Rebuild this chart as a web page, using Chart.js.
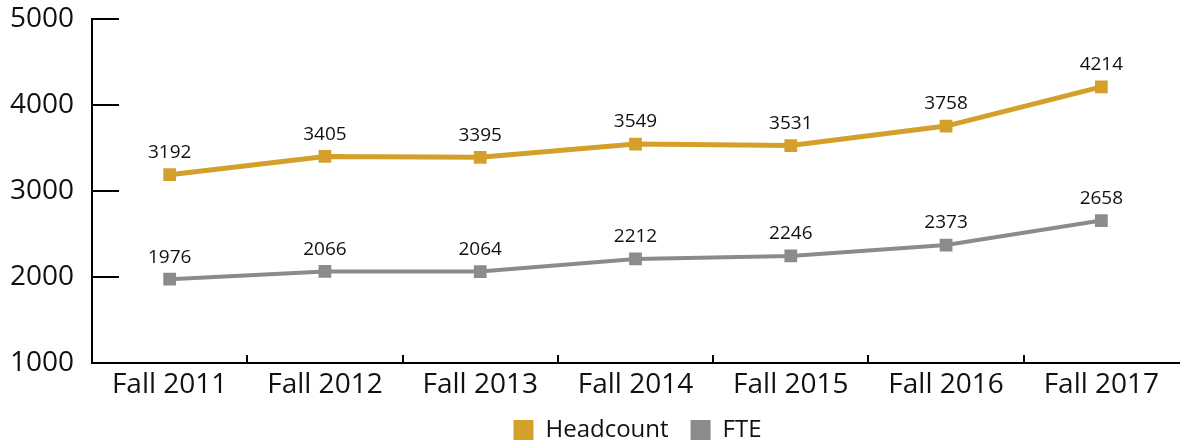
<!DOCTYPE html>
<html>
<head>
<meta charset="utf-8">
<script src="https://cdn.jsdelivr.net/npm/chart.js@4"></script>
<style>
  html, body { margin: 0; padding: 0; background: #fff; }
  #wrap { width: 1188px; height: 441px; position: relative; }
</style>
</head>
<body>
<div id="wrap"><canvas id="myChart"></canvas></div>
<script>
const terms = ['Fall 2011', 'Fall 2012', 'Fall 2013', 'Fall 2014', 'Fall 2015', 'Fall 2016', 'Fall 2017'];
const headcount = [3192, 3405, 3395, 3549, 3531, 3758, 4214];
const fte = [1976, 2066, 2064, 2212, 2246, 2373, 2658];
const yTicks = [1000, 2000, 3000, 4000, 5000];

const gold = '#d4a02b';
const grey = '#8b8b8c';
const fontFamily = '"Open Sans", "Noto Sans", sans-serif';

// keep the legend short so the plot reaches down to y=363, then move it into place
const legendFit = {
  id: 'legendFit',
  beforeLayout(chart) {
    const lg = chart.legend;
    if (lg && !lg.fitPatched) {
      const fit = lg.fit;
      lg.fit = function () { fit.call(this); this.height = 38; };
      lg.fitPatched = true;
    }
  },
  afterLayout(chart) {
    const lg = chart.legend;
    if (lg) {
      // centre it under the plot area instead of the canvas
      const dx = (chart.chartArea.left + chart.chartArea.right) / 2 - (lg.left + lg.right) / 2;
      lg.left += dx + 2;
      lg.right += dx + 2;
      lg.top -= 7;
      lg.bottom = chart.height;
    }
  }
};

// inner tick marks on both axes
const innerTicks = {
  id: 'innerTicks',
  afterDraw(chart) {
    const c = chart.ctx;
    const x = chart.scales.x, y = chart.scales.y;
    c.save();
    c.strokeStyle = '#000';
    c.lineWidth = 2;
    yTicks.forEach(v => {
      const py = Math.round(y.getPixelForValue(v));
      c.beginPath();
      c.moveTo(x.left, py);
      c.lineTo(x.left + 27, py);
      c.stroke();
    });
    for (let i = 1; i < terms.length; i++) {
      const px = Math.round((x.getPixelForValue(i - 1) + x.getPixelForValue(i)) / 2);
      c.beginPath();
      c.moveTo(px, y.bottom);
      c.lineTo(px, y.bottom - 8);
      c.stroke();
    }
    c.restore();
  }
};

// value labels above the points
const pointLabels = {
  id: 'pointLabels',
  afterDatasetsDraw(chart) {
    const c = chart.ctx;
    c.save();
    c.font = '19px ' + fontFamily;
    c.fillStyle = '#111';
    c.textAlign = 'center';
    c.textBaseline = 'middle';
    chart.data.datasets.forEach((ds, i) => {
      chart.getDatasetMeta(i).data.forEach((pt, j) => {
        c.fillText(String(ds.data[j]), pt.x, pt.y - 22);
      });
    });
    c.restore();
  }
};

new Chart(document.getElementById('myChart'), {
  type: 'line',
  data: {
    labels: terms,
    datasets: [{
      label: 'Headcount',
      data: headcount,
      borderColor: gold,
      backgroundColor: gold,
      borderWidth: 5,
      pointStyle: 'rect',
      pointRadius: 9,
      pointBorderWidth: 0,
      tension: 0
    }, {
      label: 'FTE',
      data: fte,
      borderColor: grey,
      backgroundColor: grey,
      borderWidth: 4,
      pointStyle: 'rect',
      pointRadius: 9,
      pointBorderWidth: 0,
      tension: 0
    }]
  },
  options: {
    responsive: true,
    maintainAspectRatio: false,
    animation: false,
    layout: { padding: 0 },
    plugins: {
      legend: {
        position: 'bottom',
        labels: {
          font: { family: fontFamily, size: 24 },
          color: '#111',
          boxWidth: 20,
          boxHeight: 20,
          padding: 22,
          useBorderRadius: false,
          generateLabels(chart) {
            return chart.data.datasets.map((ds, i) => ({
              text: ds.label,
              fillStyle: ds.backgroundColor,
              strokeStyle: ds.backgroundColor,
              lineWidth: 0,
              datasetIndex: i,
              fontColor: '#111'
            }));
          }
        }
      },
      tooltip: { enabled: false }
    },
    scales: {
      x: {
        offset: true,
        grid: { display: false, drawTicks: false },
        border: { display: true, color: '#000', width: 2 },
        ticks: {
          font: { family: fontFamily, size: 28 },
          color: '#111',
          padding: 5,
          maxRotation: 0
        },
        afterFit(scale) { scale.height = 40; }
      },
      y: {
        min: 1000,
        max: 5000,
        afterBuildTicks(scale) { scale.ticks = yTicks.map(v => ({ value: v })); },
        grid: { display: false, drawTicks: false },
        border: { display: true, color: '#000', width: 2 },
        ticks: {
          font: { family: fontFamily, size: 28, lineHeight: 0.1 },
          color: '#111',
          padding: 18,
          callback: v => String(v)
        },
        afterFit(scale) { scale.width = 92; }
      }
    }
  },
  plugins: [legendFit, innerTicks, pointLabels]
});
</script>
</body>
</html>
